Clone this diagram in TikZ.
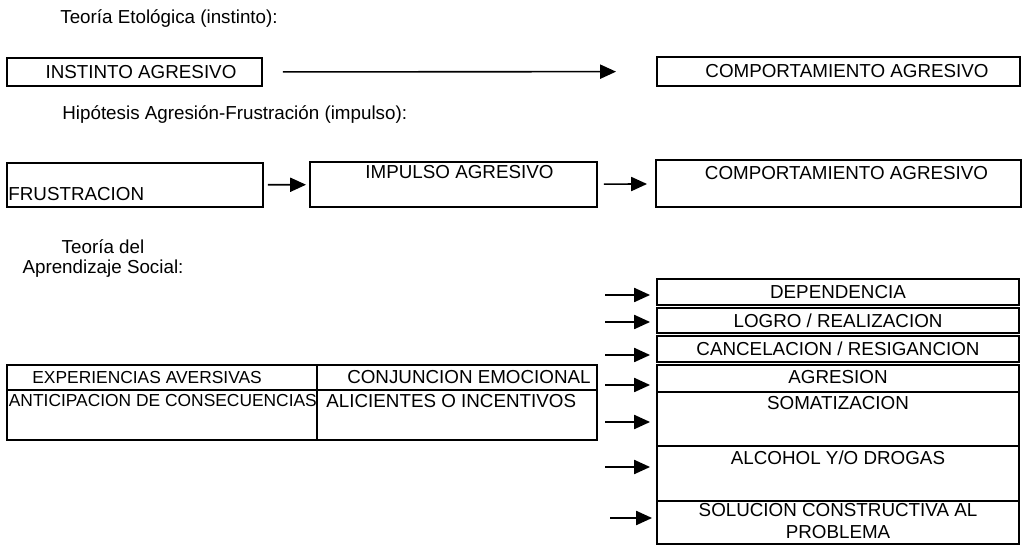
\documentclass[tikz,border=0pt]{standalone}
\usepackage{fontspec}
\setmainfont{Liberation Sans}
\usetikzlibrary{arrows.meta, positioning, fit}

\begin{document}
\begin{tikzpicture}[x=0.02cm, y=-0.02cm,
		font=\fontsize{10.7}{13}\selectfont,
		box/.style={draw, line width=1.1pt, inner sep=0pt},
		lbl/.style={inner sep=0pt},
		small/.style={font=\fontsize{9.9}{12}\selectfont},
		arr/.style={-{Triangle[length=9pt,width=8pt]}, line width=0.9pt}]
			\useasboundingbox (0,0) rectangle (1024,546);

			% Teoria etologica
			\node[lbl, anchor=base west] (etol) at (60,24) {Teoría Etológica (instinto):};
			\node[box, fit={(7,58) (262,86)}] (inst) {};
			\node[box, fit={(657,57) (1020,86)}] (comp1) {};
			\node[lbl, xshift=0.13cm] (instlbl) at (inst.center) {INSTINTO AGRESIVO};
			\node[lbl, xshift=0.17cm] (comp1lbl) at (comp1.center) {COMPORTAMIENTO AGRESIVO};

			% Hipotesis agresion-frustracion
			\node[lbl, anchor=base west] (hipo) at (62,120) {Hipótesis Agresión-Frustración (impulso):};
			\node[box, fit={(7,163) (263,207)}] (frus) {};
			\node[box, fit={(310,162) (597,207)}] (imp) {};
			\node[box, fit={(656,160) (1021,207)}] (comp2) {};
			\node[lbl, anchor=south west, above right=0.14cm and 0.04cm of frus.south west] (fruslbl) {FRUSTRACION};
			\node[lbl, below=0.08cm of imp.north, xshift=0.12cm] (implbl) {IMPULSO AGRESIVO};
			\node[lbl, below=0.13cm of comp2.north, xshift=0.16cm] (comp2lbl) {COMPORTAMIENTO AGRESIVO};

			% Aprendizaje social
			\node[lbl, align=center, anchor=base, font=\fontsize{10.7}{11.4}\selectfont] (apre) at (103,274) {Teoría del\\Aprendizaje Social:};

			% Table on the left
			\node[box, fit={(7,365) (317,390)}] (exp) {};
			\node[box, fit={(317,365) (597,390)}] (conj) {};
			\node[box, fit={(7,390) (317,440)}] (anti) {};
			\node[box, fit={(317,390) (597,440)}] (alic) {};
			\node[lbl, small, right=0.52cm of exp.west] (explbl) {EXPERIENCIAS AVERSIVAS};
			\node[lbl, left=0.14cm of conj.east] (conjlbl) {CONJUNCION EMOCIONAL};
			\node[lbl, small, below right=0.1cm and 0.05cm of anti.north west] (antilbl) {ANTICIPACION DE CONSECUENCIAS};
			\node[lbl, below right=0.1cm and 0.2cm of alic.north west] (aliclbl) {ALICIENTES O INCENTIVOS};

			% Stack on the right
			\node[box, fit={(657,279) (1019,305)}] (dep) {};
			\node[box, fit={(657,308) (1019,333)}] (logro) {};
			\node[box, fit={(657,336) (1019,362)}] (canc) {};
			\node[box, fit={(657,365) (1019,392)}] (agr) {};
			\node[box, fit={(657,392) (1019,446)}] (soma) {};
			\node[box, fit={(657,446) (1019,501)}] (alco) {};
			\node[box, fit={(657,501) (1019,544)}] (solu) {};
			\node[lbl] (deplbl) at (dep.center) {DEPENDENCIA};
			\node[lbl] (logrolbl) at (logro.center) {LOGRO / REALIZACION};
			\node[lbl] (canclbl) at (canc.center) {CANCELACION / RESIGANCION};
			\node[lbl, yshift=0.03cm] (agrlbl) at (agr.center) {AGRESION};
			\node[lbl, below=0.09cm of soma.north] (somalbl) {SOMATIZACION};
			\node[lbl, below=0.11cm of alco.north] (alcolbl) {ALCOHOL Y/O DROGAS};
			\node[lbl, align=center, below=0.05cm of solu.north] (solulbl) {SOLUCION CONSTRUCTIVA AL\\PROBLEMA};

			% Arrow starts
			\coordinate (s1) at (605,295);
			\coordinate (s2) at (605,322);
			\coordinate (s3) at (605,355);
			\coordinate (s4) at (605,385);
			\coordinate (s5) at (605,422);
			\coordinate (s6) at (605,467);
			\coordinate (s7) at (610,518);

			% Arrows
			\draw[arr, shorten <=0.4cm, shorten >=0.8cm] (inst) -- (comp1);
			\draw[arr, shorten <=0.08cm, shorten >=0.06cm] (frus) -- (imp);
			\draw[arr, shorten <=0.12cm, shorten >=0.16cm] (imp) -- (comp2);
			\draw[arr, shorten >=0.12cm] (s1) -- (s1 -| dep.west);
			\draw[arr, shorten >=0.12cm] (s2) -- (s2 -| logro.west);
			\draw[arr, shorten >=0.12cm] (s3) -- (s3 -| canc.west);
			\draw[arr, shorten >=0.12cm] (s4) -- (s4 -| agr.west);
			\draw[arr, shorten >=0.12cm] (s5) -- (s5 -| soma.west);
			\draw[arr, shorten >=0.12cm] (s6) -- (s6 -| alco.west);
			\draw[arr, shorten >=0.08cm] (s7) -- (s7 -| solu.west);
		\end{tikzpicture}
\end{document}
